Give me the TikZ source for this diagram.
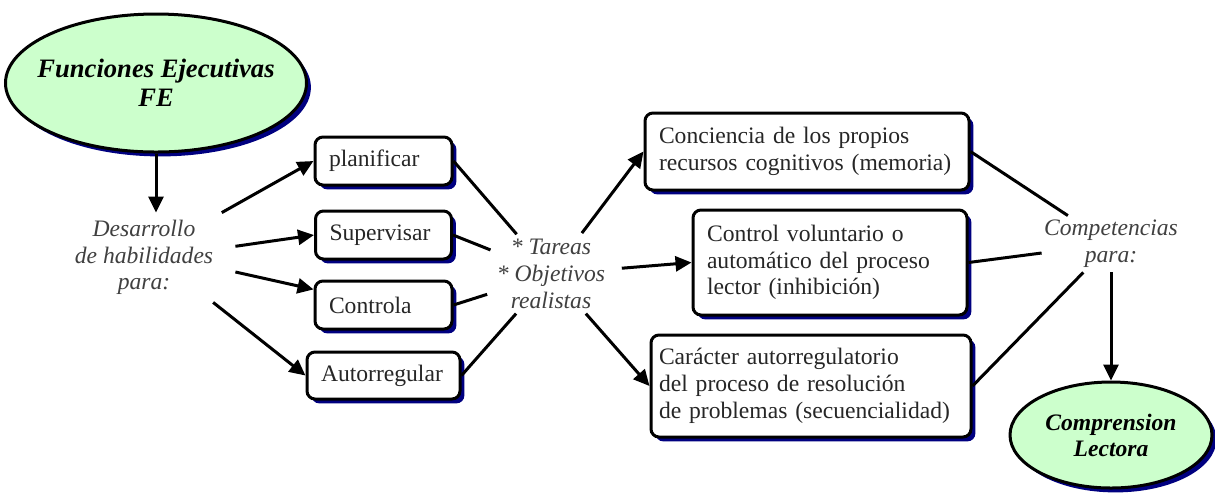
\documentclass[tikz,border=0pt]{standalone}
\usepackage{fontspec}
\setmainfont{Liberation Serif}
\usetikzlibrary{shapes,arrows.meta,positioning,shadows}
\usepackage{xcolor}
\definecolor{mint}{RGB}{204,255,204}
\definecolor{navy}{RGB}{0,0,128}

\begin{document}
\begin{tikzpicture}[
        x=0.5pt, y=-0.5pt,
        every node/.style={font=\fontsize{11.8}{13.4}\selectfont},
        navyshadow/.style={drop shadow={shadow xshift=2.2pt, shadow yshift=-2.2pt, fill=navy, opacity=1}},
        box/.style={draw, rectangle, rounded corners=4pt, line width=1.5pt, fill=white, text=black!85, align=left, inner xsep=7pt, inner ysep=2pt, navyshadow},
        goal/.style={draw, ellipse, line width=1.5pt, fill=mint, align=center, inner sep=0pt, font=\fontsize{11.8}{13}\selectfont\bfseries\itshape, navyshadow},
        note/.style={align=center, inner sep=0pt, text=black!75, font=\fontsize{11.8}{13.4}\selectfont\itshape},
        arrow/.style={-{Triangle[length=8pt,width=7.5pt]}, line width=1.5pt},
        link/.style={line width=1.5pt}
    ]
        \useasboundingbox (0,0) rectangle (1215,495);

        % Start and goal
        \node[goal, minimum width=150.5pt, minimum height=69pt, inner xsep=-10pt, font=\fontsize{13.3}{14.5}\selectfont\bfseries\itshape] (fe) at (156,83) {Funciones Ejecutivas\\FE};
        \node[note, minimum width=91pt, minimum height=44.5pt] (des) at (144,257.5) {Desarrollo\\de habilidades\\para:};

        % Skills - vertical
        \node[box, text width=54.5pt, minimum height=24pt] (plan) at (383.5,161) {planificar};
        \node[box, text width=54pt, minimum height=24pt, below=11.5pt of plan] (sup) {Supervisar};
        \node[box, text width=54.5pt, minimum height=24pt, below=9.5pt of sup] (ctrl) {Controla};
        \node[box, text width=62.5pt, minimum height=23.5pt, below=10pt of ctrl] (auto) {Autorregular};

        % Middle label
        \node[note, ellipse, minimum width=71pt, minimum height=45pt, inner xsep=-3pt, inner ysep=-6pt] (task) at (551,274) {* Tareas\\* Objetivos\\realistas};

        % Competences
        \node[box, text width=148pt, minimum height=38.5pt] (conc) at (807,151.5) {Conciencia de los propios\\recursos cognitivos (memoria)};
        \node[box, text width=123pt, minimum height=52.5pt] (ctrlv) at (830,262.5) {Control voluntario o\\automático del proceso\\lector (inhibición)};
        \node[box, text width=152pt, inner xsep=4pt, minimum height=51pt] (car) at (811,386) {Carácter autorregulatorio\\del proceso de resolución\\de problemas (secuencialidad)};

        \node[note, minimum width=69pt, minimum height=28pt] (comp) at (1111,244) {Competencias\\para:};
        \node[goal, minimum width=101pt, minimum height=53pt] (compr) at (1111,435) {Comprension\\Lectora};

        % Arrows
        \draw[arrow] (fe.south) -- (fe.south |- des.north);
        \draw[arrow] (des.30) -- (plan.west);
        \draw[arrow] (des.7) -- (sup.west);
        \draw[arrow] (des.-9) -- (ctrl);
        \draw[arrow] (des.-33) -- (auto.west);

        \draw[link] (plan.east) -- (task);
        \draw[link] (sup.east) -- (task);
        \draw[link] (ctrl.east) -- (task);
        \draw[link] (auto.east) -- (task);

        \draw[arrow] (task) -- (conc.west);
        \draw[arrow] (task) -- (ctrlv.west);
        \draw[arrow] (task) -- (car.west);

        \draw[link] (conc.east) -- (comp);
        \draw[link] (ctrlv.east) -- (comp);
        \draw[link] (car.east) -- (comp);
        \draw[arrow] (comp) -- (compr);
    \end{tikzpicture}
\end{document}
